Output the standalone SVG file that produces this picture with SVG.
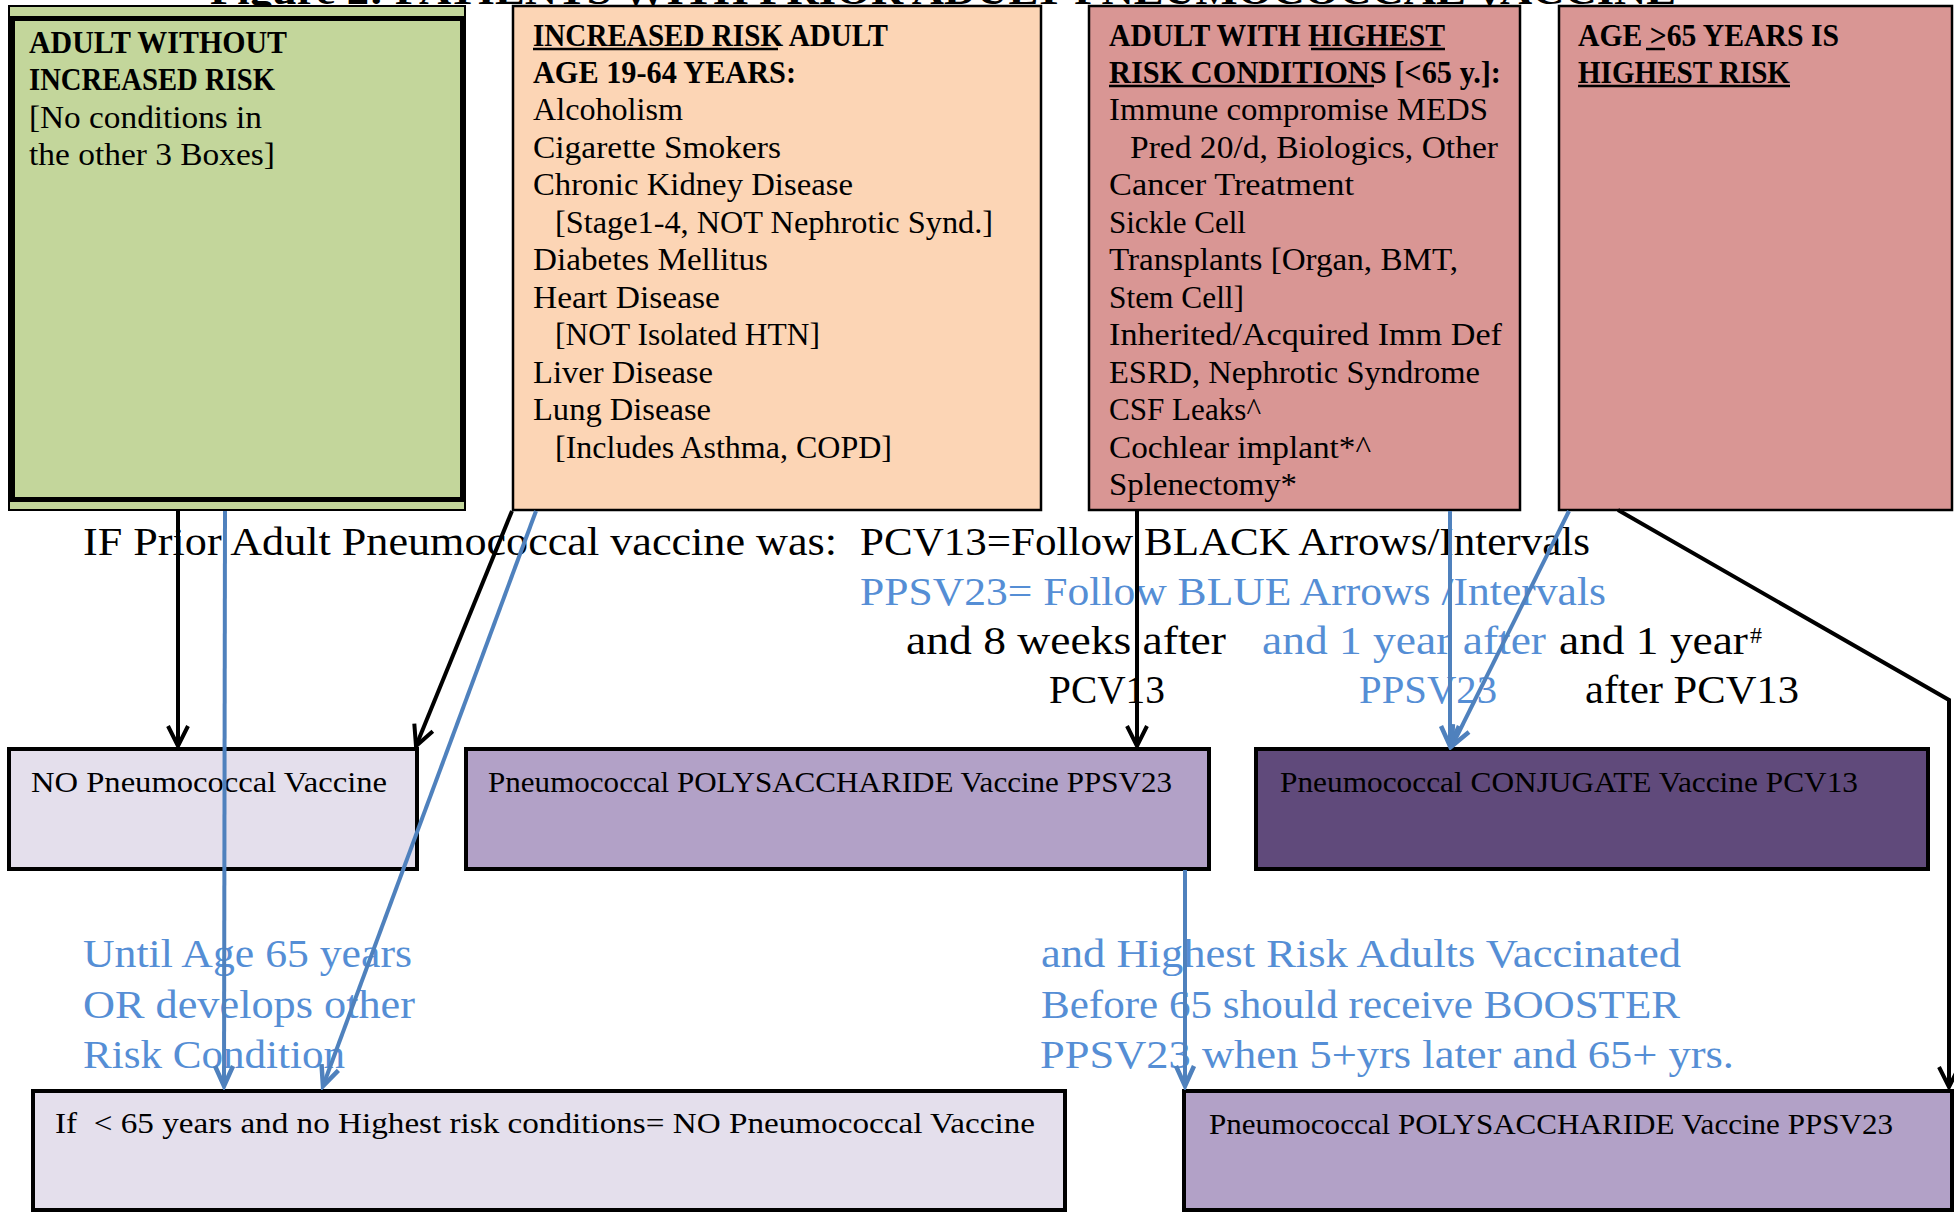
<svg xmlns="http://www.w3.org/2000/svg" width="1954" height="1212" viewBox="0 0 1954 1212">
<style>
.t{font-family:"Liberation Serif","Times New Roman",serif;font-size:31px;fill:#000}
.b{font-weight:bold}
.m{font-size:40px}
.v{font-size:30px}
.bl{fill:#558ed5}
.ul{stroke:#000;stroke-width:2.5}
.c{fill:none;stroke-width:4}
.k{stroke:#000}
.u{stroke:#4f81bd}
</style>
<defs>
<marker id="ak" viewBox="-24 -14 28 28" markerWidth="28" markerHeight="28" refX="0" refY="0" orient="auto" markerUnits="userSpaceOnUse"><path d="M-20,-10 L0,0 L-20,10" fill="none" stroke="#000" stroke-width="4"/></marker>
<marker id="au" viewBox="-24 -14 28 28" markerWidth="28" markerHeight="28" refX="0" refY="0" orient="auto" markerUnits="userSpaceOnUse"><path d="M-20,-9 L0,0 L-20,9" fill="none" stroke="#4f81bd" stroke-width="4.5"/></marker>
</defs>
<rect width="1954" height="1212" fill="#fff"/>
<text class="t b m" x="210" y="4" textLength="1466" lengthAdjust="spacingAndGlyphs">Figure 2: PATIENTS WITH PRIOR ADULT PNEUMOCOCCAL VACCINE</text>

<g id="node-green">
<rect x="9" y="6" width="456" height="504" fill="#c3d69b" stroke="#000" stroke-width="2"/>
<rect x="12.5" y="18.5" width="450" height="481" fill="#c3d69b" stroke="#000" stroke-width="5"/>
<text class="t b" x="29" y="53" textLength="258" lengthAdjust="spacingAndGlyphs">ADULT WITHOUT</text>
<text class="t b" x="29" y="90" textLength="246" lengthAdjust="spacingAndGlyphs">INCREASED RISK</text>
<text class="t" x="29" y="128" textLength="233" lengthAdjust="spacingAndGlyphs">[No conditions in</text>
<text class="t" x="29" y="165" textLength="246" lengthAdjust="spacingAndGlyphs">the other 3 Boxes]</text>
</g>

<g id="node-orange">
<rect x="513" y="6" width="528" height="504" fill="#fcd5b5" stroke="#000" stroke-width="2.5"/>
<text class="t b" x="533" y="46" textLength="355" lengthAdjust="spacingAndGlyphs">INCREASED RISK ADULT</text>
<line class="ul" x1="533" y1="49" x2="778" y2="49"/>
<text class="t b" x="533" y="83" textLength="263" lengthAdjust="spacingAndGlyphs">AGE 19-64 YEARS:</text>
<text class="t" x="533" y="120" textLength="150" lengthAdjust="spacingAndGlyphs">Alcoholism</text>
<text class="t" x="533" y="157.5" textLength="248" lengthAdjust="spacingAndGlyphs">Cigarette Smokers</text>
<text class="t" x="533" y="195" textLength="320" lengthAdjust="spacingAndGlyphs">Chronic Kidney Disease</text>
<text class="t" x="555" y="232.5" textLength="438" lengthAdjust="spacingAndGlyphs">[Stage1-4, NOT Nephrotic Synd.]</text>
<text class="t" x="533" y="270" textLength="235" lengthAdjust="spacingAndGlyphs">Diabetes Mellitus</text>
<text class="t" x="533" y="307.5" textLength="187" lengthAdjust="spacingAndGlyphs">Heart Disease</text>
<text class="t" x="555" y="345" textLength="265" lengthAdjust="spacingAndGlyphs">[NOT Isolated HTN]</text>
<text class="t" x="533" y="382.5" textLength="180" lengthAdjust="spacingAndGlyphs">Liver Disease</text>
<text class="t" x="533" y="420" textLength="178" lengthAdjust="spacingAndGlyphs">Lung Disease</text>
<text class="t" x="555" y="457.5" textLength="337" lengthAdjust="spacingAndGlyphs">[Includes Asthma, COPD]</text>
</g>

<g id="node-highest">
<rect x="1089" y="6" width="431" height="504" fill="#d99694" stroke="#000" stroke-width="2.5"/>
<text class="t b" x="1109" y="46" textLength="336" lengthAdjust="spacingAndGlyphs">ADULT WITH HIGHEST</text>
<line class="ul" x1="1311" y1="49" x2="1445" y2="49"/>
<text class="t b" x="1109" y="83" textLength="392" lengthAdjust="spacingAndGlyphs">RISK CONDITIONS [&lt;65 y.]:</text>
<line class="ul" x1="1109" y1="86" x2="1374" y2="86"/>
<text class="t" x="1109" y="120" textLength="379" lengthAdjust="spacingAndGlyphs">Immune compromise MEDS</text>
<text class="t" x="1130" y="157.5" textLength="368" lengthAdjust="spacingAndGlyphs">Pred 20/d, Biologics, Other</text>
<text class="t" x="1109" y="195" textLength="245" lengthAdjust="spacingAndGlyphs">Cancer Treatment</text>
<text class="t" x="1109" y="232.5" textLength="137" lengthAdjust="spacingAndGlyphs">Sickle Cell</text>
<text class="t" x="1109" y="270" textLength="349" lengthAdjust="spacingAndGlyphs">Transplants [Organ, BMT,</text>
<text class="t" x="1109" y="307.5" textLength="135" lengthAdjust="spacingAndGlyphs">Stem Cell]</text>
<text class="t" x="1109" y="345" textLength="393" lengthAdjust="spacingAndGlyphs">Inherited/Acquired Imm Def</text>
<text class="t" x="1109" y="382.5" textLength="371" lengthAdjust="spacingAndGlyphs">ESRD, Nephrotic Syndrome</text>
<text class="t" x="1109" y="420" textLength="152" lengthAdjust="spacingAndGlyphs">CSF Leaks^</text>
<text class="t" x="1109" y="457.5" textLength="262" lengthAdjust="spacingAndGlyphs">Cochlear implant*^</text>
<text class="t" x="1109" y="495" textLength="188" lengthAdjust="spacingAndGlyphs">Splenectomy*</text>
</g>

<g id="node-age65">
<rect x="1559" y="6" width="393" height="504" fill="#d99694" stroke="#000" stroke-width="2.5"/>
<text class="t b" x="1578" y="46" textLength="261" lengthAdjust="spacingAndGlyphs">AGE &gt;65 YEARS IS</text>
<line class="ul" x1="1646" y1="49" x2="1665" y2="49"/>
<text class="t b" x="1578" y="83" textLength="212" lengthAdjust="spacingAndGlyphs">HIGHEST RISK</text>
<line class="ul" x1="1578" y1="86" x2="1790" y2="86"/>
</g>

<g id="legend">
<text class="t m" x="83" y="555" textLength="754" lengthAdjust="spacingAndGlyphs">IF Prior Adult Pneumococcal vaccine was:</text>
<text class="t m" x="860" y="555" textLength="730" lengthAdjust="spacingAndGlyphs">PCV13=Follow BLACK Arrows/Intervals</text>
<text class="t m bl" x="860" y="605" textLength="746" lengthAdjust="spacingAndGlyphs">PPSV23= Follow BLUE Arrows /Intervals</text>
<text class="t m" x="906" y="654" textLength="320" lengthAdjust="spacingAndGlyphs">and 8 weeks after</text>
<text class="t m bl" x="1262" y="654" textLength="284" lengthAdjust="spacingAndGlyphs">and 1 year after</text>
<text class="t m" x="1559" y="654" textLength="189" lengthAdjust="spacingAndGlyphs">and 1 year</text>
<text class="t" x="1750" y="643" style="font-size:24px">#</text>
<text class="t m" x="1049" y="703" textLength="116" lengthAdjust="spacingAndGlyphs">PCV13</text>
<text class="t m bl" x="1359" y="703" textLength="138" lengthAdjust="spacingAndGlyphs">PPSV23</text>
<text class="t m" x="1585" y="703" textLength="214" lengthAdjust="spacingAndGlyphs">after PCV13</text>
</g>

<g id="node-no-vaccine">
<rect x="9" y="749" width="408" height="120" fill="#e4dfec" stroke="#000" stroke-width="4"/>
<text class="t v" x="31" y="792" textLength="356" lengthAdjust="spacingAndGlyphs">NO Pneumococcal Vaccine</text>
</g>
<g id="node-ppsv23">
<rect x="466" y="749" width="743" height="120" fill="#b2a1c7" stroke="#000" stroke-width="4"/>
<text class="t v" x="488" y="792" textLength="684" lengthAdjust="spacingAndGlyphs">Pneumococcal POLYSACCHARIDE Vaccine PPSV23</text>
</g>
<g id="node-pcv13">
<rect x="1256" y="749" width="672" height="120" fill="#604a7b" stroke="#000" stroke-width="4"/>
<text class="t v" x="1280" y="792" textLength="578" lengthAdjust="spacingAndGlyphs">Pneumococcal CONJUGATE Vaccine PCV13</text>
</g>

<g id="notes">
<text class="t m bl" x="83" y="967" textLength="329" lengthAdjust="spacingAndGlyphs">Until Age 65 years</text>
<text class="t m bl" x="83" y="1018" textLength="332" lengthAdjust="spacingAndGlyphs">OR develops other</text>
<text class="t m bl" x="83" y="1068" textLength="262" lengthAdjust="spacingAndGlyphs">Risk Condition</text>
<text class="t m bl" x="1041" y="967" textLength="640" lengthAdjust="spacingAndGlyphs">and Highest Risk Adults Vaccinated</text>
<text class="t m bl" x="1041" y="1018" textLength="639" lengthAdjust="spacingAndGlyphs">Before 65 should receive BOOSTER</text>
<text class="t m bl" x="1040" y="1068" textLength="694" lengthAdjust="spacingAndGlyphs">PPSV23 when 5+yrs later and 65+ yrs.</text>
</g>

<g id="node-no-vaccine-under65">
<rect x="33" y="1091" width="1032" height="119" fill="#e4dfec" stroke="#000" stroke-width="4"/>
<text class="t v" x="55" y="1133" textLength="980" lengthAdjust="spacingAndGlyphs" xml:space="preserve">If  &lt; 65 years and no Highest risk conditions= NO Pneumococcal Vaccine</text>
</g>
<g id="node-ppsv23-booster">
<rect x="1184" y="1091" width="768" height="119" fill="#b2a1c7" stroke="#000" stroke-width="4"/>
<text class="t v" x="1209" y="1134" textLength="684" lengthAdjust="spacingAndGlyphs">Pneumococcal POLYSACCHARIDE Vaccine PPSV23</text>
</g>

<g id="connectors">
<path class="c k" d="M178,511 L178,746" marker-end="url(#ak)"/>
<path class="c k" d="M512,511 L416,746" marker-end="url(#ak)"/>
<path class="c k" d="M1137,511 L1137,746" marker-end="url(#ak)"/>
<path class="c k" d="M1618,510 L1949,700 L1949,1087" marker-end="url(#ak)"/>
<path class="c u" d="M225,511 L224,1086" marker-end="url(#au)"/>
<path class="c u" d="M536,511 L323,1086" marker-end="url(#au)"/>
<path class="c u" d="M1450,511 L1450,746" marker-end="url(#au)"/>
<path class="c u" d="M1569,511 L1452,746" marker-end="url(#au)"/>
<path class="c u" d="M1185,870 L1185,1086" marker-end="url(#au)"/>
</g>
</svg>
